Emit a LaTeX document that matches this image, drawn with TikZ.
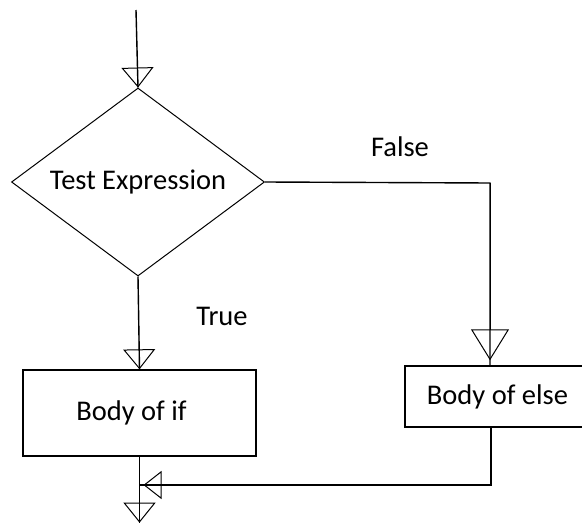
\documentclass[tikz,border=0pt]{standalone}
\usepackage{fontspec}
\setmainfont{Carlito}
\usetikzlibrary{arrows.meta,shapes.geometric}
\begin{document}
\begin{tikzpicture}[x=1pt,y=-1pt,
  conn/.style={line width=1.4pt},
  tip/.style={-{Triangle[open,length=20pt,width=32pt,line width=1pt]}},
  txt/.style={font=\fontsize{28.5}{33}\selectfont},
  box/.style={draw,line width=1.4pt,inner sep=0pt,txt},
  dec/.style={draw,diamond,aspect=1.35,line width=1pt,inner sep=0pt,minimum width=253pt,minimum height=188pt,txt},
  lbl/.style={anchor=base,inner sep=0pt,txt}]
\useasboundingbox (0,0) rectangle (582,525);
\coordinate (start) at (136,10);
\node[dec] (test) at (138,182) {Test Expression};
\node[box,minimum width=233pt,minimum height=86pt] (if) at (139.5,413) {Body of if\hspace*{16pt}};
\node[box,minimum width=185pt,minimum height=61pt] (else) at (497.5,396.5) {Body of else};
\coordinate (fc) at (490,183);
\coordinate (ec) at (491,485);
\coordinate (join) at (if.south |- ec);
\path (if.south) ++(0,66) coordinate (end);
% connectors
\draw[conn] (start) -- (test.north);
\draw[tip] (start) -- (test.north);
\draw[conn] (test.south) -- (if.north);
\draw[tip] (test.south) -- (if.north);
\draw[conn] (test.east) -- (fc) -- (fc |- else.north);
\draw[-{Triangle[open,length=31pt,width=38pt,line width=1pt]},shorten >=5pt] (fc) -- (fc |- else.north);
\draw[conn] (else.south -| ec) -- (ec) -- (join);
\draw[-{Triangle[open,length=18pt,width=28pt,line width=1pt]},shorten >=4pt] (ec) -- (join);
\draw[conn] (if.south) -- (end);
\draw[tip] (if.south) -- (end);
% labels
\node[lbl] (false) at (400,156) {False};
\node[lbl] (true) at (222,325) {True};
\end{tikzpicture}
\end{document}
